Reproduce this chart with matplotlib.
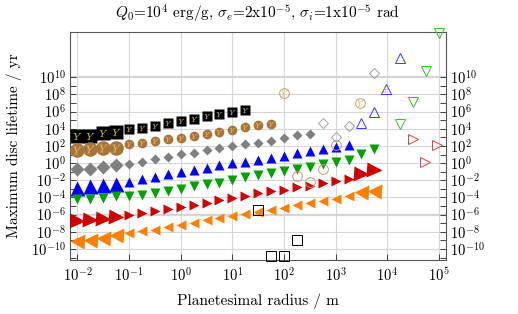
import numpy as np
import matplotlib
matplotlib.use("Agg")
import matplotlib.pyplot as plt
from matplotlib.ticker import FixedLocator, NullLocator, LogFormatterSciNotation, NullFormatter

plt.rcParams['font.family'] = 'serif'
plt.rcParams['font.serif'] = ['cmr10', 'DejaVu Serif']
plt.rcParams['mathtext.fontset'] = 'cm'
plt.rcParams['axes.formatter.use_mathtext'] = True
plt.rcParams['axes.unicode_minus'] = False

# planetesimal radius grid / m (quarter decades)
radius = [0.01, 0.0178, 0.0316, 0.0562, 0.1, 0.178, 0.316, 0.562,
          1.0, 1.78, 3.16, 5.62, 10.0, 17.8, 31.6, 56.2,
          100.0, 178.0, 316.0, 562.0, 1000.0, 1780.0, 3160.0, 5620.0]

# log10 of max disc lifetime / yr, filled symbols
life_black = [3.10, 3.17, 3.49, 3.64, 3.95, 4.07, 4.34, 4.62, 4.92, 5.12, 5.44, 5.71, 5.98, 6.15]
life_brown = [1.53, 1.61, 1.73, 1.81, 2.20, 2.40, 2.58, 2.78, 2.98, 3.17, 3.37, 3.64, 3.87, 4.20,
              4.39, 4.57]
life_grey = [-0.73, -0.64, -0.41, -0.26, -0.14, 0.13, 0.44, 0.76, 1.03, 1.23, 1.53, 1.81, 2.00,
             2.18, 2.31, 2.63, 2.90, 3.22, 3.40]
life_blue = [-2.87, -2.68, -2.60, -2.40, -2.21, -1.90, -1.58, -1.31, -1.04, -0.81, -0.53, -0.26,
             -0.02, 0.17, 0.36, 0.60, 0.88, 1.15, 1.38, 1.65, 1.93, 2.16]
life_green = [-4.23, -4.15, -4.03, -3.85, -3.88, -3.77, -3.45, -3.26, -2.98, -2.68, -2.48, -2.28,
              -1.98, -1.64, -1.39, -1.16, -0.96, -0.69, -0.41, -0.11, 0.09, 0.36, 1.06, 1.65]
life_red = [-6.77, -6.65, -6.49, -6.30, -5.99, -5.79, -5.60, -5.40, -5.13, -4.82, -4.62, -4.32,
            -4.04, -3.79, -3.53, -3.30, -3.10, -2.83, -2.63, -2.33, -2.05, -1.86, -1.27, -0.81]
life_orange = [-9.03, -8.91, -8.71, -8.41, -8.13, -7.94, -7.74, -7.47, -7.24, -6.96, -6.65, -6.37,
               -6.10, -5.91, -5.64, -5.44, -5.17, -4.90, -4.67, -4.39, -4.12, -3.88, -3.42, -3.22]

# open symbols: (radius / m, log10 lifetime)
open_brown_y = [(100.0, 8.20), (3020.0, 7.00)]
open_brown = [(1000.0, 2.12), (178.0, -1.46), (316.0, -2.25), (562.0, -0.69)]
open_y_only = [(9300.0, 8.67)]
open_grey = [(562.0, 4.69), (1000.0, 3.02), (1780.0, 4.30), (5620.0, 10.50)]
open_blue = [(3160.0, 4.69), (5620.0, 5.94), (9300.0, 8.67), (17800.0, 12.18)]
open_green = [(17800.0, 4.50), (31600.0, 7.11), (56200.0, 10.70), (100000.0, 15.10)]
open_red = [(31000.0, 2.75), (53000.0, 0.09), (91000.0, 2.16)]
open_black = [(31.6, -5.48), (178.0, -8.99), (56.2, -10.82), (100.0, -10.82)]

fig = plt.figure(figsize=(5.18, 3.14), dpi=100)
ax = fig.add_axes([70 / 518, 1 - 260 / 314, 376 / 518, 228.3 / 314])
ax.set_xscale('log')
ax.set_yscale('log')


def filled(life, marker, color, big_first=4, big_last=0, ms=6.5, ms_big=9.5):
    x = np.array(radius[:len(life)])
    y = 10.0 ** np.array(life)
    n = len(life)
    sizes = [ms_big if (i < big_first or i >= n - big_last) else ms for i in range(n)]
    for xi, yi, s in zip(x, y, sizes):
        ax.plot(xi, yi, marker=marker, color=color, ms=s, mec='none', ls='none', zorder=3)
    return x, y, sizes


def ylabels(x, y, sizes, color):
    for xi, yi, s in zip(x, y, sizes):
        ax.plot(xi, yi, marker='$Y$', color=color, ms=s * 0.55, mew=0.1, ls='none', zorder=4)


xb, yb, sb = filled(life_black, 's', 'black', ms=7.0, ms_big=9.8)
ylabels(xb, yb, sb, '#c8bc48')
xr, yr, sr = filled(life_brown, 'o', '#a8743a', ms=7.0, ms_big=10.5)
ylabels(xr, yr, sr, '#d8c070')
filled(life_grey, 'D', '#808080', ms=5.3, ms_big=7.5)
filled(life_blue, '^', '#0000ff', ms=7.0, ms_big=10.8)
filled(life_green, 'v', '#00a000', big_first=0, ms=7.0)
filled(life_red, '>', '#cc0000', big_last=2, ms=7.0, ms_big=10.8)
filled(life_orange, '<', '#ff8000', big_last=2, ms=7.0, ms_big=10.8)


def hollow(pts, marker, color, ms=7.0):
    x = [p[0] for p in pts]
    y = [10.0 ** p[1] for p in pts]
    ax.plot(x, y, marker=marker, mfc='none', mec=color, mew=0.7, ms=ms, ls='none', zorder=5,
            clip_on=False)
    return x, y


hx, hy = hollow(open_brown_y, 'o', '#c49c74')
for xi, yi in zip(hx, hy):
    ax.plot(xi, yi, marker='$Y$', color='#d0c060', ms=4.5, mew=0.1, ls='none', zorder=6)
hollow(open_brown, 'o', '#c49c74')
hollow(open_grey, 'D', '#a0a0a0', ms=5.5)
hollow(open_blue, '^', '#3a3aff')
hollow(open_green, 'v', '#3cb83c')
hollow(open_red, '>', '#e04040', ms=6.5)
hollow(open_black, 's', 'black', ms=6.5)
for xi, lv in open_y_only:
    ax.plot(xi, 10.0 ** lv, marker='$Y$', color='#d0c060', ms=4.5, mew=0.1, ls='none', zorder=6)

ax.set_xlim(10 ** -2.145, 10 ** 5.136)
ax.set_ylim(10 ** -11.28, 10 ** 15.3)

ax.xaxis.set_major_locator(FixedLocator([10.0 ** k for k in range(-2, 6)]))
ax.xaxis.set_minor_locator(NullLocator())
ax.yaxis.set_major_locator(FixedLocator([10.0 ** k for k in range(-10, 11, 2)]))
ax.yaxis.set_minor_locator(FixedLocator([10.0 ** k for k in range(-11, 10, 2)]))
ax.yaxis.set_major_formatter(LogFormatterSciNotation())
ax.yaxis.set_minor_formatter(NullFormatter())

ax.tick_params(which='both', direction='in', length=4, width=0.7, color='#404040',
               labelsize=10.5, top=False, right=True, labelright=True, pad=3)
ax.tick_params(axis='x', pad=5)
ax.grid(which='major', color='#d6d6d6', lw=0.8, zorder=0)
for lv in (1e10, 1e-6):
    ax.axhline(lv, color='#d2d2d2', lw=1.6, zorder=0)
for sp in ax.spines.values():
    sp.set_color('#555555')
    sp.set_linewidth(0.8)

fig.text(258 / 518, 1 - 14 / 314,
         r'$Q_0$=10$^4$ erg/g, $\sigma_e$=2x10$^{-5}$, $\sigma_i$=1x10$^{-5}$ rad',
         ha='center', va='center', fontsize=11)
fig.text(258 / 518, 1 - 301 / 314, 'Planetesimal radius / m', ha='center', va='center', fontsize=11)
fig.text(14 / 518, 1 - 146 / 314, 'Maximum disc lifetime / yr', ha='center', va='center',
         rotation=90, fontsize=11)

fig.savefig('out.png', dpi=100)
